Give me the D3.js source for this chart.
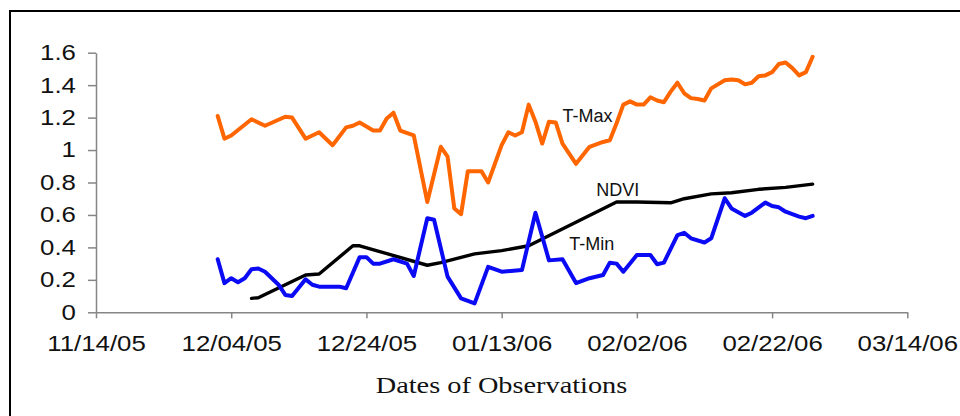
<!DOCTYPE html>
<html>
<head>
<meta charset="utf-8">
<script src="https://cdn.jsdelivr.net/npm/d3@7"></script>
<style>
  html, body { margin: 0; padding: 0; background: #fff; }
  svg { display: block; }
</style>
</head>
<body>
<svg id="chart" width="960" height="416"></svg>
<script>
// ---- Data ----
const tmaxDates = ["12/02/05","12/03/05","12/04/05","12/07/05","12/09/05","12/12/05","12/13/05","12/15/05","12/17/05","12/19/05","12/21/05","12/22/05","12/23/05","12/25/05","12/26/05","12/27/05","12/28/05","12/29/05","12/31/05","01/02/06","01/04/06","01/05/06","01/06/06","01/07/06","01/08/06","01/10/06","01/11/06","01/13/06","01/14/06","01/15/06","01/16/06","01/17/06","01/18/06","01/19/06","01/20/06","01/21/06","01/22/06","01/24/06","01/26/06","01/28/06","01/29/06","01/30/06","01/31/06","02/01/06","02/02/06","02/03/06","02/04/06","02/05/06","02/06/06","02/07/06","02/08/06","02/09/06","02/10/06","02/11/06","02/12/06","02/13/06","02/15/06","02/16/06","02/17/06","02/18/06","02/19/06","02/20/06","02/21/06","02/22/06","02/23/06","02/24/06","02/25/06","02/26/06","02/27/06","02/28/06"];
const tmaxValues = [1.21,1.07,1.09,1.19,1.15,1.205,1.20,1.07,1.11,1.03,1.14,1.15,1.17,1.12,1.12,1.195,1.23,1.12,1.09,0.68,1.02,0.96,0.64,0.605,0.87,0.87,0.80,1.03,1.11,1.09,1.11,1.28,1.175,1.04,1.175,1.17,1.04,0.915,1.02,1.05,1.06,1.165,1.28,1.30,1.28,1.28,1.325,1.305,1.295,1.36,1.415,1.35,1.32,1.315,1.305,1.38,1.43,1.435,1.43,1.405,1.415,1.455,1.46,1.48,1.53,1.54,1.505,1.46,1.48,1.575];

const tminDates = ["12/02/05","12/03/05","12/04/05","12/05/05","12/06/05","12/07/05","12/08/05","12/09/05","12/11/05","12/12/05","12/13/05","12/15/05","12/16/05","12/17/05","12/20/05","12/21/05","12/23/05","12/24/05","12/25/05","12/26/05","12/28/05","12/30/05","12/31/05","01/02/06","01/03/06","01/05/06","01/07/06","01/09/06","01/11/06","01/13/06","01/16/06","01/18/06","01/20/06","01/22/06","01/24/06","01/26/06","01/28/06","01/29/06","01/30/06","01/31/06","02/02/06","02/04/06","02/05/06","02/06/06","02/08/06","02/09/06","02/10/06","02/12/06","02/13/06","02/15/06","02/16/06","02/18/06","02/19/06","02/21/06","02/22/06","02/23/06","02/24/06","02/26/06","02/27/06","02/28/06"];
const tminValues = [0.327,0.18,0.21,0.185,0.21,0.265,0.27,0.25,0.17,0.107,0.10,0.203,0.17,0.158,0.158,0.148,0.34,0.34,0.30,0.30,0.327,0.30,0.224,0.58,0.57,0.22,0.086,0.055,0.28,0.25,0.26,0.614,0.32,0.327,0.18,0.21,0.23,0.306,0.30,0.25,0.353,0.353,0.296,0.306,0.476,0.49,0.456,0.43,0.456,0.703,0.64,0.594,0.614,0.676,0.655,0.647,0.62,0.59,0.58,0.594];

const ndviDates = ["12/07/05","12/08/05","12/15/05","12/17/05","12/22/05","12/23/05","01/02/06","01/04/06","01/09/06","01/13/06","01/17/06","01/30/06","02/02/06","02/07/06","02/09/06","02/13/06","02/16/06","02/20/06","02/24/06","02/28/06"];
const ndviValues = [0.086,0.09,0.23,0.236,0.41,0.41,0.29,0.306,0.36,0.38,0.41,0.68,0.68,0.675,0.70,0.73,0.737,0.758,0.77,0.79];

const xTickLabels = ["11/14/05","12/04/05","12/24/05","01/13/06","02/02/06","02/22/06","03/14/06"];
const yTickValues = [0,0.2,0.4,0.6,0.8,1,1.2,1.4,1.6];

const seriesNames = ["T-Max","NDVI","T-Min"];
const labelDates = ["01/22/06","01/27/06","01/23/06"];
const labelValues = [1.17,0.717,0.387];
const axisTitle = "Dates of Observations";

// ---- Chart ----
const parse = d3.timeParse("%m/%d/%y");
const fmt = d3.timeFormat("%m/%d/%y");
const svg = d3.select("#chart");

const x = d3.scaleTime()
  .domain([parse(xTickLabels[0]), parse(xTickLabels[xTickLabels.length - 1])])
  .range([96, 907.3]);
const y = d3.scaleLinear().domain([0, 1.6]).range([312.3, 52.7]);

// frame
svg.append("rect")
  .attr("x", 10).attr("y", 11).attr("width", 980).attr("height", 430)
  .attr("fill", "none").attr("stroke", "#000").attr("stroke-width", 2);

const tickFont = "'Liberation Sans', Arial, sans-serif";

// y axis
const yAxis = svg.append("g")
  .attr("transform", "translate(96,0)")
  .call(d3.axisLeft(y).tickValues(yTickValues).tickFormat(d3.format("")).tickSize(8).tickSizeOuter(0).tickPadding(8.7));
// x axis
const xAxis = svg.append("g")
  .attr("transform", "translate(0,312.3)")
  .call(d3.axisBottom(x).tickValues(xTickLabels.map(parse)).tickFormat(fmt).tickSize(6).tickSizeOuter(0).tickPadding(17));

[yAxis, xAxis].forEach(g => {
  g.select(".domain").attr("stroke", "#858585").attr("stroke-width", 1.5);
  g.selectAll(".tick line").attr("stroke", "#858585").attr("stroke-width", 1.5);
  g.selectAll(".tick text")
    .attr("fill", "#111")
    .style("font-family", tickFont)
    .style("font-size", "21.5px")
    .attr("transform", "scale(1.2,1)");
});

// lines
const line = d3.line().x(d => x(d.date)).y(d => y(d.value));
function build(dates, values) {
  return dates.map((d, i) => ({ date: parse(d), value: values[i] }));
}
const series = [
  { data: build(tmaxDates, tmaxValues), color: "#FF6600", width: 4 },
  { data: build(ndviDates, ndviValues), color: "#000000", width: 3.4 },
  { data: build(tminDates, tminValues), color: "#0A0AF5", width: 4 }
];
series.forEach(s => {
  svg.append("path")
    .datum(s.data)
    .attr("d", line)
    .attr("fill", "none")
    .attr("stroke", s.color)
    .attr("stroke-width", s.width)
    .attr("stroke-linejoin", "round")
    .attr("stroke-linecap", "round");
});

// series labels
seriesNames.forEach((name, i) => {
  svg.append("text")
    .attr("x", x(parse(labelDates[i])))
    .attr("y", y(labelValues[i]))
    .attr("fill", "#111")
    .style("font-family", tickFont)
    .style("font-size", "18px")
    .text(name);
});

// axis title
svg.append("text")
  .attr("transform", "translate(501.5,392.7) scale(1.18,1)")
  .attr("text-anchor", "middle")
  .attr("fill", "#111")
  .style("font-family", "'Liberation Serif', 'Times New Roman', serif")
  .style("font-size", "24px")
  .text(axisTitle);
</script>
</body>
</html>
